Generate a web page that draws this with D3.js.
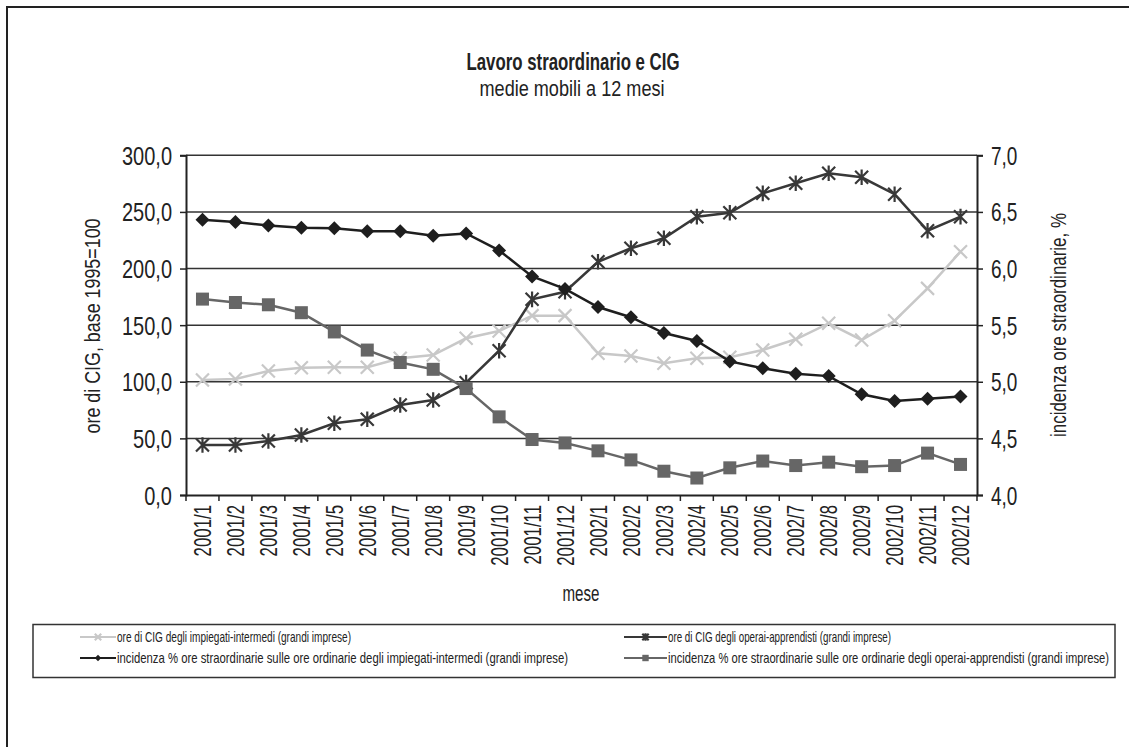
<!DOCTYPE html>
<html>
<head>
<meta charset="utf-8">
<script src="https://cdn.jsdelivr.net/npm/d3@7"></script>
<style>
  body { margin: 0; background: #fff; }
  svg text { font-family: "Liberation Sans", Arial, sans-serif; fill: #222; }
</style>
</head>
<body>
<svg id="chart" width="1129" height="747"></svg>
<script>
// mesi
const mesi = ["2001/1","2001/2","2001/3","2001/4","2001/5","2001/6","2001/7","2001/8","2001/9","2001/10","2001/11","2001/12",
  "2002/1","2002/2","2002/3","2002/4","2002/5","2002/6","2002/7","2002/8","2002/9","2002/10","2002/11","2002/12"];

// ore di CIG (asse sinistro)
const cigImpiegati = [101.6,102.4,109.5,112.4,112.8,112.8,120.7,123.6,138.4,144.8,158.4,158.4,
  125.1,122.8,116.3,120.7,121.6,128.1,137.5,151.6,136.9,153.9,182.5,214.9];
const cigOperai = [44.2,44.2,47.7,53.0,63.3,66.9,79.5,83.9,99.2,127.4,172.8,179.5,
  206.0,217.9,226.7,245.8,249.3,266.4,275.3,284.1,280.6,265.6,233.4,245.8];

// incidenza % ore straordinarie (asse destro)
const straordImpiegati = [6.43,6.41,6.38,6.36,6.355,6.33,6.33,6.29,6.31,6.16,5.93,5.82,
  5.66,5.57,5.43,5.36,5.18,5.12,5.07,5.05,4.89,4.83,4.85,4.87];
const straordOperai = [5.73,5.70,5.68,5.61,5.44,5.28,5.17,5.11,4.94,4.69,4.49,4.46,
  4.39,4.31,4.21,4.15,4.24,4.30,4.26,4.29,4.25,4.26,4.37,4.27];

const ticksSx = [0,50,100,150,200,250,300];
const ticksDx = [4,4.5,5,5.5,6,6.5,7];

const svg = d3.select("#chart");
const pLeft = 186, pRight = 977, pTop = 155.3, pBottom = 495;

// carattere stretto: comprime il testo in orizzontale
function squeeze(sel, f) {
  sel.each(function () {
    const w = this.getComputedTextLength();
    d3.select(this).attr("textLength", w * f).attr("lengthAdjust", "spacingAndGlyphs");
  });
}
function fitTo(sel, w) {
  sel.attr("textLength", w).attr("lengthAdjust", "spacingAndGlyphs");
}

// cornice esterna
svg.append("path")
  .attr("d", "M7,760 V7 H1140")
  .attr("fill", "none").attr("stroke", "#222").attr("stroke-width", 2);

// titolo
fitTo(svg.append("text").attr("x", 573).attr("y", 70).attr("text-anchor", "middle")
  .attr("font-size", "24px").attr("font-weight", "bold").text("Lavoro straordinario e CIG"), 213);
fitTo(svg.append("text").attr("x", 572).attr("y", 96).attr("text-anchor", "middle")
  .attr("font-size", "22px").text("medie mobili a 12 mesi"), 185);

const x = d3.scaleBand().domain(mesi).range([pLeft, pRight]);
const ySx = d3.scaleLinear().domain([0, 300]).range([pBottom, pTop]);
const yDx = d3.scaleLinear().domain([4, 7]).range([pBottom, pTop]);
const fmt = v => d3.format(".1f")(v).replace(".", ",");
const cx = d => x(d) + x.bandwidth() / 2;

// griglia
svg.append("g").selectAll("line").data(ticksSx.slice(1)).join("line")
  .attr("x1", pLeft).attr("x2", pRight)
  .attr("y1", d => ySx(d)).attr("y2", d => ySx(d))
  .attr("stroke", "#333").attr("stroke-width", 1.5);

// assi
const axSx = svg.append("g").attr("transform", `translate(${pLeft},0)`)
  .call(d3.axisLeft(ySx).tickValues(ticksSx).tickFormat(fmt).tickSize(6).tickPadding(8));
const axDx = svg.append("g").attr("transform", `translate(${pRight},0)`)
  .call(d3.axisRight(yDx).tickValues(ticksDx).tickFormat(fmt).tickSize(6).tickPadding(8));
const axX = svg.append("g").attr("transform", `translate(0,${pBottom})`)
  .call(d3.axisBottom(x).tickSize(0).tickPadding(0));
[axSx, axDx, axX].forEach(a => {
  a.selectAll("path.domain").attr("stroke", "#222").attr("stroke-width", 2);
  a.selectAll(".tick line").attr("stroke", "#222").attr("stroke-width", 1.5);
  a.selectAll("text").attr("font-size", "25px").attr("fill", "#222");
});
axSx.selectAll(".tick text").attr("dy", "0.36em");
axDx.selectAll(".tick text").attr("dy", "0.36em");
squeeze(axSx.selectAll(".tick text"), 0.8);
squeeze(axDx.selectAll(".tick text"), 0.76);

// tacche categoria
axX.append("g").selectAll("line").data(mesi.concat([null])).join("line")
  .attr("x1", (d, i) => pLeft + i * x.bandwidth()).attr("x2", (d, i) => pLeft + i * x.bandwidth())
  .attr("y1", 0).attr("y2", 6).attr("stroke", "#222").attr("stroke-width", 1.5);
axX.selectAll(".tick text")
  .attr("transform", "rotate(-90)")
  .attr("text-anchor", "end")
  .attr("x", -10).attr("y", 0).attr("dy", "0.36em")
  .attr("font-size", "24px");
squeeze(axX.selectAll(".tick text"), 0.7);

// etichette assi
fitTo(svg.append("text").attr("transform", "translate(100,326) rotate(-90)")
  .attr("text-anchor", "middle").attr("font-size", "22px").text("ore di CIG, base 1995=100"), 215);
fitTo(svg.append("text").attr("transform", "translate(1066,325) rotate(-90)")
  .attr("text-anchor", "middle").attr("font-size", "22px").text("incidenza ore straordinarie, %"), 224);
fitTo(svg.append("text").attr("x", 581).attr("y", 601).attr("text-anchor", "middle")
  .attr("font-size", "22px").text("mese"), 37);

// marcatori
function marker(g, type, color, s) {
  if (type === "diamond") {
    g.append("path").attr("d", `M0,${-s}L${s},0L0,${s}L${-s},0Z`).attr("fill", color);
  } else if (type === "square") {
    g.append("rect").attr("x", -s).attr("y", -s).attr("width", 2 * s).attr("height", 2 * s).attr("fill", color);
  } else if (type === "star") {
    g.append("path").attr("d", `M${-s},${-s}L${s},${s}M${-s},${s}L${s},${-s}M0,${-s * 1.2}V${s * 1.2}`)
      .attr("stroke", color).attr("stroke-width", 2.2).attr("fill", "none");
  } else {
    g.append("path").attr("d", `M${-s},${-s}L${s},${s}M${-s},${s}L${s},${-s}`)
      .attr("stroke", color).attr("stroke-width", 2.2).attr("fill", "none");
  }
}

const serie = [
  { nome: "ore di CIG degli impiegati-intermedi (grandi imprese)", valori: cigImpiegati, y: ySx, col: "#c8c8c8", mk: "x", s: 6.5, w: 2.5 },
  { nome: "ore di CIG degli operai-apprendisti (grandi imprese)", valori: cigOperai, y: ySx, col: "#383838", mk: "star", s: 6.5, w: 2.5 },
  { nome: "incidenza % ore straordinarie sulle ore ordinarie degli impiegati-intermedi (grandi imprese)", valori: straordImpiegati, y: yDx, col: "#1e1e1e", mk: "diamond", s: 7, w: 2.5 },
  { nome: "incidenza % ore straordinarie sulle ore ordinarie degli operai-apprendisti (grandi imprese)", valori: straordOperai, y: yDx, col: "#666", mk: "square", s: 6.5, w: 2.5 }
];

serie.forEach(se => {
  const pts = se.valori.map((v, i) => [cx(mesi[i]), se.y(v)]);
  svg.append("path").attr("d", d3.line()(pts))
    .attr("fill", "none").attr("stroke", se.col).attr("stroke-width", se.w);
  pts.forEach(p => marker(svg.append("g").attr("transform", `translate(${p[0]},${p[1]})`), se.mk, se.col, se.s));
});

// legenda
svg.append("rect").attr("x", 33).attr("y", 624.5).attr("width", 1082).attr("height", 53)
  .attr("fill", "none").attr("stroke", "#333").attr("stroke-width", 1.5);
const posLeg = [[80, 637, 234], [624, 637, 223], [80, 658, 451], [624, 658, 441]];
serie.forEach((se, i) => {
  const [lx, ly, lw] = posLeg[i];
  const lineW = i % 2 ? 43 : 36;
  const g = svg.append("g");
  g.append("line").attr("x1", lx).attr("x2", lx + lineW).attr("y1", ly).attr("y2", ly)
    .attr("stroke", se.col).attr("stroke-width", 2);
  marker(g.append("g").attr("transform", `translate(${lx + lineW / 2},${ly})`), se.mk, se.col, 3.2);
  fitTo(g.append("text").attr("x", lx + lineW + 1).attr("y", ly + 5).attr("font-size", "15px").text(se.nome), lw);
});
</script>
</body>
</html>
